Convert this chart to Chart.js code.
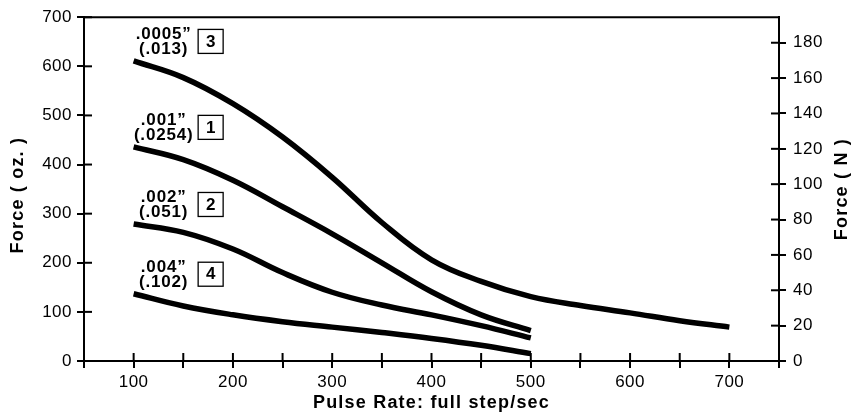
<!DOCTYPE html>
<html>
<head>
<meta charset="utf-8">
<title>Force vs Pulse Rate</title>
<script src="https://cdn.jsdelivr.net/npm/chart.js@4"></script>
<style>
	html, body { margin: 0; padding: 0; background: #fff; }
</style>
</head>
<body>
<canvas id="myChart" width="859" height="417"></canvas>
<script>
// pulse rate, full step/sec
const rateLong = [100, 150, 200, 250, 300, 350, 400, 450, 500, 550, 600, 650, 700];
const rateShort = [100, 150, 200, 250, 300, 350, 400, 450, 500];

// force in oz. for each air gap
const force3 = [611, 577, 524, 456, 374, 282, 206, 162, 131, 113, 98, 82, 69];
const force1 = [436, 410, 368, 314, 259, 200, 141, 94, 62];
const force2 = [279, 262, 228, 180, 140, 114, 94, 72, 47];
const force4 = [137, 112, 94, 80, 69, 58, 46, 32, 15];

// curve labels: gap in inches, gap in mm, curve number
const gapInch = ['.0005\u201d', '.001\u201d', '.002\u201d', '.004\u201d'];
const gapMm = ['(.013)', '(.0254)', '(.051)', '(.102)'];
const curveNo = ['3', '1', '2', '4'];

const OZ_PER_N = 3.6;

function points(xs, ys) {
	return xs.map((x, i) => ({ x: x, y: ys[i] }));
}

const FONT = '"Liberation Sans", Arial, Helvetica, sans-serif';

// axis frame, inner tick marks, axis titles and curve labels
const extras = {
	id: 'extras',
	beforeDraw(chart) {
		chart.ctx.letterSpacing = '0.5px';
	},
	afterDraw(chart) {
		const ctx = chart.ctx;
		const a = chart.chartArea;
		ctx.save();
		ctx.strokeStyle = '#000';
		ctx.fillStyle = '#000';
		ctx.lineWidth = 2;

		// top line of the box
		ctx.beginPath();
		ctx.moveTo(a.left - 1, a.top);
		ctx.lineTo(a.right + 1, a.top);
		ctx.stroke();

		// ticks also reach into the plot
		const inner = 8;
		const yl = chart.scales.y;
		yl.ticks.forEach(t => {
			const y = yl.getPixelForValue(t.value);
			ctx.beginPath();
			ctx.moveTo(a.left, y);
			ctx.lineTo(a.left + inner, y);
			ctx.stroke();
		});
		const yr = chart.scales.yN;
		yr.ticks.forEach(t => {
			const y = yr.getPixelForValue(t.value);
			ctx.beginPath();
			ctx.moveTo(a.right, y);
			ctx.lineTo(a.right - inner, y);
			ctx.stroke();
		});
		const xs = chart.scales.x;
		xs.ticks.forEach(t => {
			const x = xs.getPixelForValue(t.value);
			ctx.beginPath();
			ctx.moveTo(x, a.bottom);
			ctx.lineTo(x, a.bottom - inner);
			ctx.stroke();
		});

		// axis titles
		ctx.font = 'bold 18px ' + FONT;
		ctx.letterSpacing = '1.2px';
		ctx.textAlign = 'center';
		ctx.textBaseline = 'middle';
		ctx.fillText('Pulse Rate: full step/sec', (a.left + a.right) / 2, a.bottom + 42);

		ctx.save();
		ctx.translate(18, (a.top + a.bottom) / 2 + 6);
		ctx.rotate(-Math.PI / 2);
		ctx.fillText('Force ( oz. )', 0, 0);
		ctx.restore();

		ctx.save();
		ctx.translate(842, (a.top + a.bottom) / 2);
		ctx.rotate(-Math.PI / 2);
		ctx.fillText('Force ( N )', 0, 0);
		ctx.restore();

		// labels at the start of each curve
		ctx.letterSpacing = '0.8px';
		ctx.font = 'bold 17px ' + FONT;
		ctx.textBaseline = 'alphabetic';
		chart.data.datasets.forEach((ds, i) => {
			const p = chart.getDatasetMeta(i).data[0];
			ctx.textAlign = 'center';
			ctx.fillText(gapInch[i], p.x + 30, p.y - 22);
			ctx.fillText(gapMm[i], p.x + 30, p.y - 7);
			ctx.lineWidth = 1.3;
			ctx.strokeRect(p.x + 64.5, p.y - 31.5, 25, 24);
			ctx.textBaseline = 'middle';
			ctx.fillText(curveNo[i], p.x + 77.5, p.y - 19);
			ctx.textBaseline = 'alphabetic';
		});
		ctx.restore();
	}
};

const lineStyle = {
	borderColor: '#000',
	borderWidth: 5.5,
	pointRadius: 0,
	fill: false,
	tension: 0.4
};

const data = {
	datasets: [
		Object.assign({ label: '3', data: points(rateLong, force3) }, lineStyle),
		Object.assign({ label: '1', data: points(rateShort, force1) }, lineStyle),
		Object.assign({ label: '2', data: points(rateShort, force2) }, lineStyle),
		Object.assign({ label: '4', data: points(rateShort, force4) }, lineStyle)
	]
};

const tickFont = { family: FONT, size: 17 };

const config = {
	type: 'line',
	data,
	options: {
		responsive: false,
		animation: false,
		clip: false,
		layout: { padding: { top: 15, left: 0, right: 0, bottom: 0 } },
		plugins: {
			legend: { display: false },
			tooltip: { enabled: false }
		},
		scales: {
			x: {
				type: 'linear',
				min: 50,
				max: 750,
				afterFit: s => { s.height = 56; },
				border: { display: true, color: '#000', width: 2 },
				grid: { drawOnChartArea: false, color: '#000', lineWidth: 2, tickLength: 7 },
				ticks: {
					stepSize: 50,
					autoSkip: false,
					maxRotation: 0,
					padding: 4,
					color: '#000',
					font: tickFont,
					callback: v => (v % 100 === 0 && v >= 100 && v <= 700) ? String(v) : ''
				}
			},
			y: {
				position: 'left',
				min: 0,
				max: 700,
				afterFit: s => { s.width = 84; },
				border: { display: true, color: '#000', width: 2 },
				grid: { drawOnChartArea: false, color: '#000', lineWidth: 2, tickLength: 7 },
				ticks: { stepSize: 100, padding: 5, color: '#000', font: tickFont }
			},
			yN: {
				position: 'right',
				min: 0,
				max: 700 / OZ_PER_N,
				afterFit: s => { s.width = 80; },
				border: { display: true, color: '#000', width: 2 },
				grid: { drawOnChartArea: false, color: '#000', lineWidth: 2, tickLength: 7 },
				ticks: { stepSize: 20, includeBounds: false, padding: 7, color: '#000', font: tickFont }
			}
		}
	},
	plugins: [extras]
};

const myChart = new Chart(document.getElementById('myChart'), config);
</script>
</body>
</html>
